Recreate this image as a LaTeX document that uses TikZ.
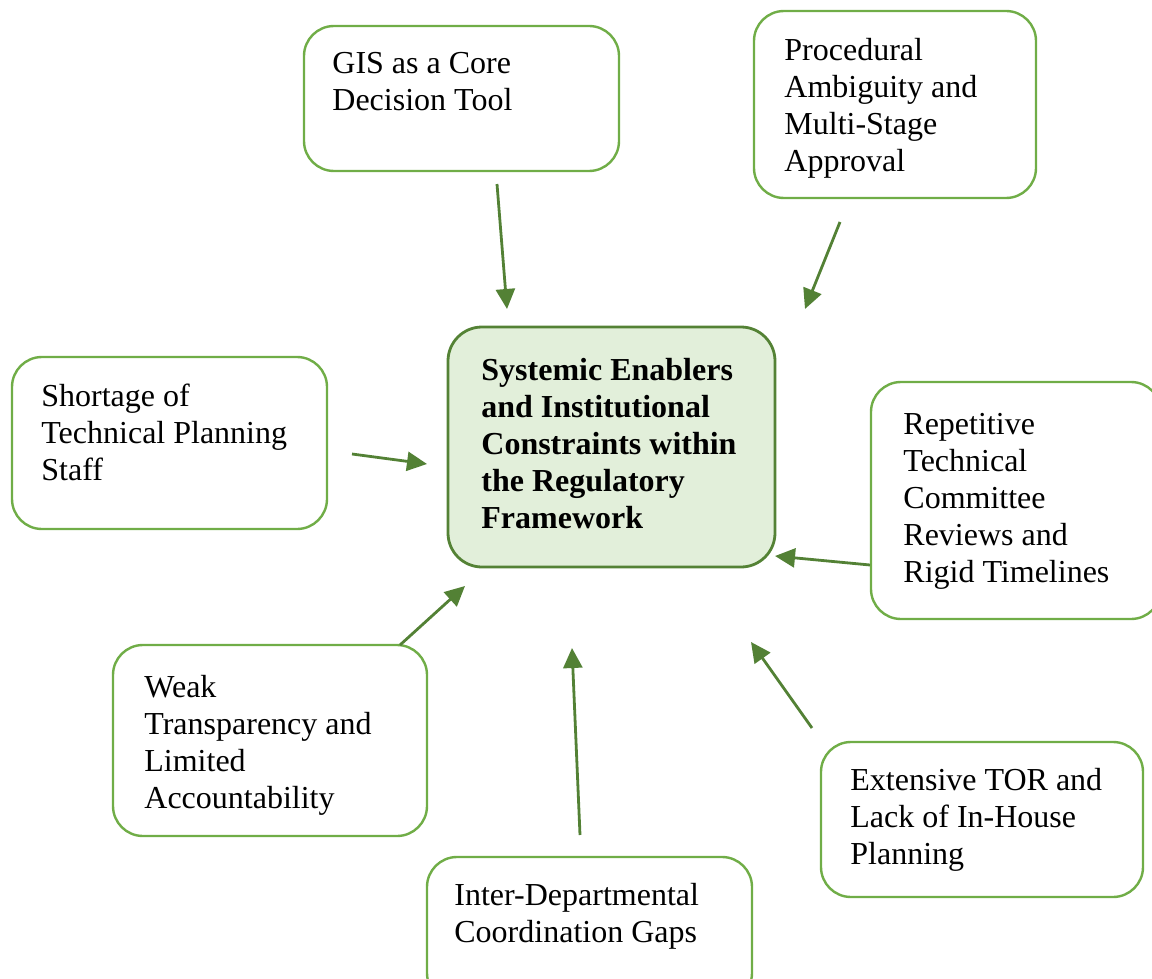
\documentclass[tikz,border=0pt]{standalone}
\usepackage{fontspec}
\setmainfont{Liberation Serif}
\usetikzlibrary{arrows.meta}
\definecolor{boxgreen}{RGB}{112,173,71}
\definecolor{hubgreen}{RGB}{84,130,53}
\definecolor{hubfill}{RGB}{226,239,218}
\definecolor{arrgreen}{RGB}{83,129,53}

\begin{document}
\begin{tikzpicture}[x=0.5pt,y=-0.5pt,
	box/.style={draw=boxgreen, line width=1.2pt, rounded corners=15pt, inner sep=0pt},
	hubbox/.style={box, draw=hubgreen, line width=1.4pt, fill=hubfill, rounded corners=17pt},
	lbl/.style={anchor=north west, inner sep=0pt, align=left, font=\fontsize{16pt}{18.5pt}\selectfont},
	link/.style={draw=arrgreen, line width=1.4pt, -{Triangle[length=10pt,width=9.5pt]}}]
	\clip (0,0) rectangle (1152,979);
	% boxes
	\node[box, minimum width=157.5pt, minimum height=72.5pt] (gis) at (461.5,98.5) {};
	\node[box, minimum width=141pt, minimum height=93.5pt] (proc) at (895,104.5) {};
	\node[box, minimum width=157.5pt, minimum height=86pt] (staff) at (169.5,443) {};
	\node[hubbox, minimum width=163.5pt, minimum height=120pt] (hub) at (611.5,447) {};
	\node[box, minimum width=145pt, minimum height=118.5pt] (rev) at (1016,500.5) {};
	\node[box, minimum width=157pt, minimum height=95.5pt] (weak) at (270,740.5) {};
	\node[box, minimum width=161pt, minimum height=77.5pt] (tor) at (982,819.5) {};
	\node[box, minimum width=162.5pt, minimum height=73pt] (coord) at (589.5,930) {};
	% texts
	\node[lbl] (gisT) at (332,52) {GIS as a Core\\Decision Tool};
	\node[lbl] (procT) at (784,38) {Procedural\\Ambiguity and\\Multi-Stage\\Approval};
	\node[lbl] (staffT) at (41,384) {Shortage of\\Technical Planning\\Staff};
	\node[lbl, font=\fontsize{16pt}{18.5pt}\selectfont\bfseries] (hubT) at (481,358) {Systemic Enablers\\and Institutional\\Constraints within\\the Regulatory\\Framework};
	\node[lbl] (revT) at (903,413) {Repetitive\\Technical\\Committee\\Reviews and\\Rigid Timelines};
	\node[lbl] (weakT) at (144,675) {Weak\\Transparency and\\Limited\\Accountability};
	\node[lbl] (torT) at (850,768) {Extensive TOR and\\Lack of In-House\\Planning};
	\node[lbl] (coordT) at (454,883) {Inter-Departmental\\Coordination Gaps};
	% arrow ends
	\coordinate (a1) at (497,184);  \coordinate (b1) at (507,309);
	\coordinate (a2) at (840,222);  \coordinate (b2) at (805,309);
	\coordinate (a3) at (352,454);  \coordinate (b3) at (427,464);
	\coordinate (a4) at (870,565);  \coordinate (b4) at (775,556);
	\coordinate (a5) at (400,645);  \coordinate (b5) at (465,586);
	\coordinate (a6) at (580,835);  \coordinate (b6) at (572,648);
	\coordinate (a7) at (812,728);  \coordinate (b7) at (751,642);
	% arrows
	\foreach \i in {1,...,7}
		\draw[link] (a\i) -- (b\i);
\end{tikzpicture}
\end{document}
